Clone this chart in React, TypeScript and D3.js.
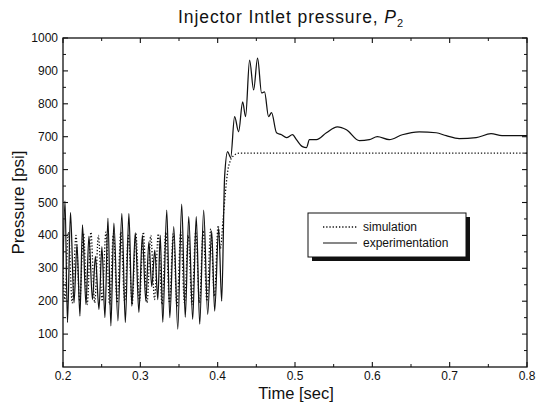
import React from "react";
import * as d3 from "d3";

const xTickValues = [0.2, 0.3, 0.4, 0.5, 0.6, 0.7, 0.8];
const xMinorTicks = [0.25, 0.35, 0.45, 0.55, 0.65, 0.75];
const yTickValues = [100, 200, 300, 400, 500, 600, 700, 800, 900, 1000];
const yMinorTicks = [50, 150, 250, 350, 450, 550, 650, 750, 850, 950];

const seriesNames = ["simulation", "experimentation"];

const simTime = [
  0.2, 0.2023, 0.2071, 0.2119, 0.2168, 0.2216, 0.2265, 0.2313, 0.2361, 0.241,
  0.2458, 0.2506, 0.2555, 0.2603, 0.2652, 0.27, 0.2748, 0.2797, 0.2845, 0.2894,
  0.2942, 0.299, 0.3039, 0.3087, 0.3135, 0.3184, 0.3232, 0.3281, 0.3329, 0.3377,
  0.3426, 0.3474, 0.3523, 0.3571, 0.3619, 0.3668, 0.3716, 0.3765, 0.3813, 0.3861,
  0.391, 0.3958, 0.4006, 0.4035, 0.407, 0.41, 0.413, 0.4165, 0.421, 0.428, 0.8,
];
const simPressure = [
  300, 205, 410, 195, 400, 200, 405, 190, 410, 195,
  400, 200, 410, 190, 405, 195, 410, 200, 400, 190,
  405, 200, 410, 195, 400, 205, 405, 190, 410, 195,
  405, 185, 410, 195, 400, 190, 410, 195, 415, 200,
  420, 215, 430, 360, 450, 530, 595, 628, 643, 650, 650,
];

const expTime = [
  0.2, 0.2026, 0.2058, 0.2097, 0.2142, 0.2181, 0.2219, 0.2252, 0.2297, 0.2335,
  0.2381, 0.2419, 0.2465, 0.2503, 0.2542, 0.2581, 0.2619, 0.2658, 0.271, 0.2761,
  0.2806, 0.2852, 0.289, 0.2935, 0.2981, 0.3026, 0.3071, 0.311, 0.3148, 0.3187,
  0.3226, 0.3258, 0.329, 0.3342, 0.3381, 0.3432, 0.3484, 0.3535, 0.3581, 0.3626,
  0.3677, 0.3723, 0.3768, 0.3819, 0.3871, 0.3923, 0.3961, 0.4013, 0.4052, 0.409,
  0.4129, 0.4168, 0.4219, 0.4271, 0.4323, 0.4361, 0.4413, 0.4465, 0.4516, 0.4568,
  0.4606, 0.4658, 0.4697, 0.4761, 0.4826, 0.489, 0.4968, 0.5019, 0.5097, 0.5148,
  0.5187, 0.5277, 0.5406, 0.5548, 0.5665, 0.5832, 0.5961, 0.6065, 0.6219, 0.6387,
  0.6606, 0.6826, 0.6955, 0.7123, 0.7342, 0.7535, 0.7677, 0.8,
];
const expPressure = [
  300, 505, 135, 470, 195, 372, 155, 432, 190, 397,
  205, 336, 175, 366, 150, 452, 125, 437, 140, 467,
  135, 467, 185, 408, 166, 400, 200, 380, 245, 355,
  205, 400, 136, 477, 150, 427, 115, 495, 151, 457,
  145, 457, 130, 477, 160, 412, 170, 422, 200, 579,
  655, 636, 761, 715, 806, 761, 933, 842, 939, 833,
  836, 761, 773, 712, 706, 697, 706, 691, 670, 667,
  691, 691, 712, 730, 721, 688, 691, 700, 691, 706,
  715, 712, 703, 694, 697, 709, 703, 703,
];

const W = 536;
const H = 404;
const L = 63;
const R = 527;
const T = 38;
const B = 367;

export default function App() {
  const x = d3.scaleLinear().domain([0.2, 0.8]).range([L, R]);
  const y = d3.scaleLinear().domain([0, 1000]).range([B, T]);

  const mk = (ts: number[], ps: number[]) =>
    d3
      .line<number>()
      .x((_, i) => x(ts[i]))
      .y((p) => y(p))
      .curve(d3.curveMonotoneX)(ps) || "";

  const simPath = mk(simTime, simPressure);
  const expPath = mk(expTime, expPressure);

  const font = "'Liberation Sans', Arial, Helvetica, sans-serif";
  const majorLen = 5;
  const minorLen = 3;

  return (
    <svg
      width={W}
      height={H}
      style={{ position: "absolute", left: 0, top: 0, background: "#fff" }}
      fontFamily={font}
    >
      <defs>
        <clipPath id="plotclip">
          <rect x={L} y={T} width={R - L} height={B - T} />
        </clipPath>
      </defs>
      <rect x={0} y={0} width={W} height={H} fill="#fff" />

      {/* title */}
      <text x={291} y={23} fontSize={17.5} textAnchor="middle" fill="#111" letterSpacing={0.9}>
        Injector Intlet pressure,{" "}
        <tspan fontStyle="italic">P</tspan>
        <tspan fontSize={11} dy={4}>2</tspan>
      </text>

      {/* data */}
      <g clipPath="url(#plotclip)">
        <path d={simPath} fill="none" stroke="#111" strokeWidth={1.3} strokeDasharray="1.3 1.9" />
        <path d={expPath} fill="none" stroke="#111" strokeWidth={1.25} />
      </g>

      {/* frame */}
      <rect x={L} y={T} width={R - L} height={B - T} fill="none" stroke="#111" strokeWidth={1.3} />

      {/* x ticks */}
      {xTickValues.map((v) => (
        <g key={"xt" + v}>
          <line x1={x(v)} x2={x(v)} y1={B} y2={B - majorLen} stroke="#111" strokeWidth={1.1} />
          <line x1={x(v)} x2={x(v)} y1={T} y2={T + majorLen} stroke="#111" strokeWidth={1.1} />
          <text x={x(v)} y={380} fontSize={12} textAnchor="middle" fill="#111">
            {d3.format(".1f")(v)}
          </text>
        </g>
      ))}
      {xMinorTicks.map((v) => (
        <g key={"xm" + v}>
          <line x1={x(v)} x2={x(v)} y1={B} y2={B - minorLen} stroke="#111" strokeWidth={1} />
          <line x1={x(v)} x2={x(v)} y1={T} y2={T + minorLen} stroke="#111" strokeWidth={1} />
        </g>
      ))}

      {/* y ticks */}
      {yTickValues.map((v) => (
        <g key={"yt" + v}>
          <line x1={L} x2={L + majorLen} y1={y(v)} y2={y(v)} stroke="#111" strokeWidth={1.1} />
          <line x1={R} x2={R - majorLen} y1={y(v)} y2={y(v)} stroke="#111" strokeWidth={1.1} />
          <text x={58} y={y(v) + 4} fontSize={12} textAnchor="end" fill="#111">
            {v}
          </text>
        </g>
      ))}
      {yMinorTicks.map((v) => (
        <g key={"ym" + v}>
          <line x1={L} x2={L + minorLen} y1={y(v)} y2={y(v)} stroke="#111" strokeWidth={1} />
          <line x1={R} x2={R - minorLen} y1={y(v)} y2={y(v)} stroke="#111" strokeWidth={1} />
        </g>
      ))}

      {/* axis titles */}
      <text x={296} y={399} fontSize={16.5} textAnchor="middle" fill="#111">
        Time [sec]
      </text>
      <text
        transform={`translate(24, ${(T + B) / 2}) rotate(-90)`}
        fontSize={17}
        textAnchor="middle"
        fill="#111"
      >
        Pressure [psi]
      </text>

      {/* legend */}
      <rect x={312} y={217} width={158} height={44} fill="#111" />
      <rect x={308} y={213} width={158} height={44} fill="#fff" stroke="#111" strokeWidth={1} />
      <line x1={323} x2={357} y1={227} y2={227} stroke="#111" strokeWidth={1.3} strokeDasharray="1.3 1.9" />
      <line x1={323} x2={357} y1={243} y2={243} stroke="#111" strokeWidth={1.1} />
      <text x={363} y={231} fontSize={12} fill="#111">{seriesNames[0]}</text>
      <text x={363} y={247} fontSize={12} fill="#111">{seriesNames[1]}</text>
    </svg>
  );
}
